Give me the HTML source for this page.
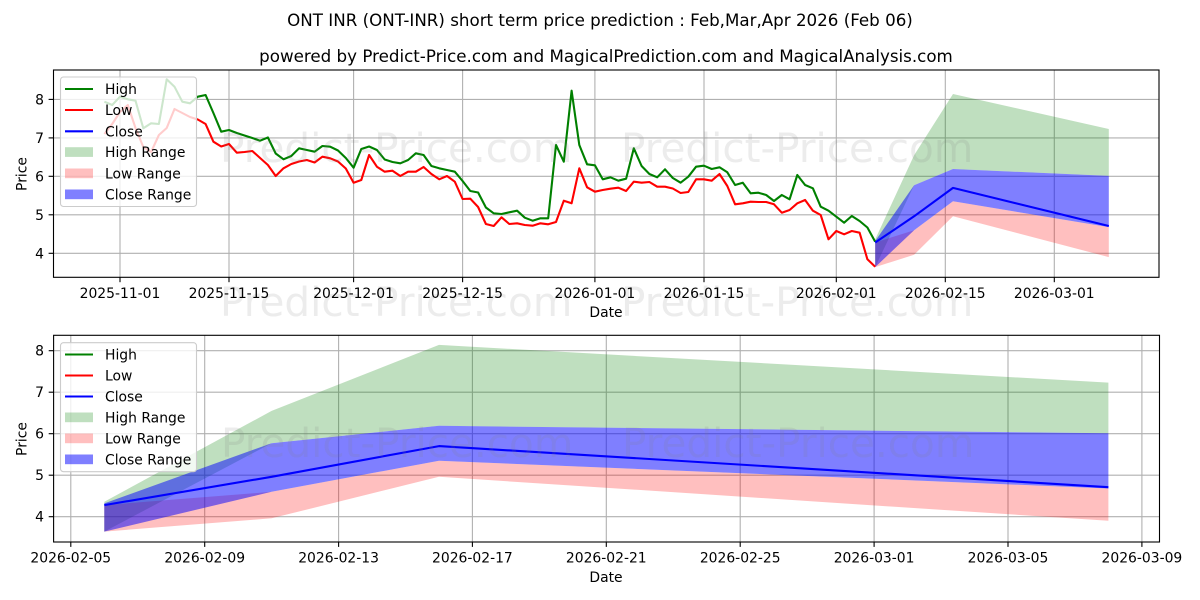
<!DOCTYPE html>
<html>
<head>
<meta charset="utf-8">
<style>
  html, body { margin:0; padding:0; background:#ffffff; }
  svg { display:block; }
  text { font-family: "DejaVu Sans", "Liberation Sans", sans-serif; fill:#000; }
  .tick { font-size:13.9px; }
  .title { font-size:16.7px; }
  .grid line { stroke:#b0b0b0; stroke-width:1.1; }
  .wm { font-size:40.5px; fill:#808080; fill-opacity:0.15; }
</style>
</head>
<body>
<svg width="1200" height="600" viewBox="0 0 1200 600" xmlns="http://www.w3.org/2000/svg">
  <rect x="0" y="0" width="1200" height="600" fill="#ffffff"/>

  <!-- Titles -->
  <text class="title" x="600" y="26" text-anchor="middle">ONT INR (ONT-INR) short term price prediction : Feb,Mar,Apr 2026 (Feb 06)</text>
  <text class="title" x="606" y="62" text-anchor="middle">powered by Predict-Price.com and MagicalPrediction.com and MagicalAnalysis.com</text>

  <!-- ================= TOP CHART ================= -->
  <g class="grid">
    <line x1="53.5" x2="1159" y1="253.3" y2="253.3"/>
    <line x1="53.5" x2="1159" y1="214.8" y2="214.8"/>
    <line x1="53.5" x2="1159" y1="176.3" y2="176.3"/>
    <line x1="53.5" x2="1159" y1="137.9" y2="137.9"/>
    <line x1="53.5" x2="1159" y1="99.4" y2="99.4"/>
    <line y1="70" y2="277.3" x1="120" x2="120"/>
    <line y1="70" y2="277.3" x1="229" x2="229"/>
    <line y1="70" y2="277.3" x1="353.6" x2="353.6"/>
    <line y1="70" y2="277.3" x1="462.6" x2="462.6"/>
    <line y1="70" y2="277.3" x1="594.9" x2="594.9"/>
    <line y1="70" y2="277.3" x1="704" x2="704"/>
    <line y1="70" y2="277.3" x1="836.3" x2="836.3"/>
    <line y1="70" y2="277.3" x1="945.3" x2="945.3"/>
    <line y1="70" y2="277.3" x1="1054.3" x2="1054.3"/>
  </g>

  <!-- prediction ranges top -->
  <polygon fill="#008000" fill-opacity="0.25" points="875.2,239.4 914.1,155.2 953,94 1108.8,129 1108.8,175.9 953,169 914.1,185.2 875.2,267.1"/>
  <polygon fill="#ff0000" fill-opacity="0.25" points="875.2,242.5 914.1,230.2 953,201.3 1108.8,227.1 1108.8,257.1 953,216.3 914.1,254.8 875.2,267.1"/>
  <polygon fill="#0000ff" fill-opacity="0.5" points="875.2,241 914.1,185.2 953,169 1108.8,175.9 1108.8,227.1 953,201.3 914.1,230.2 875.2,267.1"/>

  <!-- historical lines -->
  <polyline fill="none" stroke="#008000" stroke-width="2.1" stroke-linejoin="round" points="104.4,101.7 112.2,105 120,96.7 127.8,99.3 135.5,100.7 143.3,128.3 151.1,123.3 158.9,124 166.7,79.3 174.5,86.7 182.3,101.7 190,103.3 197.8,96.7 205.6,95 213.4,113 221.2,131.7 229,130 236.8,133 244.5,135.5 252.3,138 260.1,140.7 267.9,137.5 275.7,153.5 283.5,159.3 291.3,156 299.1,148.3 306.8,150 314.6,151.7 322.4,146 330.2,146.7 338,150.5 345.8,158 353.6,167.7 361.3,149 369.1,146.5 376.9,150 384.7,159.5 392.5,162 400.3,163.3 408.1,160 415.8,153.3 423.6,155 431.4,166 439.2,168.3 447,170 454.8,171.7 462.6,181 470.3,191 478.1,192.5 485.9,207.5 493.7,213.3 501.5,214 509.3,212.3 517.1,210.7 524.8,217.7 532.6,220.7 540.4,218.3 548.2,218.3 556,145 563.8,161.7 571.6,90.7 579.3,145 587.1,164.3 594.9,165.3 602.7,179.3 610.5,177.3 618.3,180.7 626.1,178.7 633.8,148.3 641.6,166 649.4,174 657.2,177.3 665,169.3 672.8,178 680.6,182.7 688.3,176.7 696.1,166.7 703.9,165.7 711.7,169 719.5,167.3 727.3,172.3 735.1,185 742.8,182.7 750.6,193.3 758.4,192.7 766.2,195 774,201 781.8,195 789.6,199.3 797.3,175 805.1,185 812.9,188.3 820.7,206.7 828.5,210.7 836.3,216.7 844.1,222.7 851.8,216 859.6,221 867.4,227.5 875.2,241.7"/>
  <polyline fill="none" stroke="#ff0000" stroke-width="2.1" stroke-linejoin="round" points="104.4,134 112.2,124 120,112 127.8,105 135.5,128 143.3,147 151.1,152 158.9,135 166.7,128 174.5,109 182.3,113 190,117 197.8,119.5 205.6,124 213.4,141.7 221.2,146.5 229,144 236.8,152.7 244.5,152 252.3,151 260.1,158 267.9,165 275.7,176 283.5,168.3 291.3,164 299.1,161.5 306.8,160 314.6,162.5 322.4,156.7 330.2,158.3 338,161.5 345.8,168.5 353.6,182.7 361.3,180 369.1,155 376.9,166.7 384.7,171.7 392.5,170.7 400.3,176 408.1,171.7 415.8,171.7 423.6,167 431.4,174 439.2,179.3 447,176 454.8,181.7 462.6,199 470.3,198.7 478.1,207 485.9,224 493.7,226 501.5,217.3 509.3,224 517.1,223.3 524.8,225 532.6,225.7 540.4,223.3 548.2,224.3 556,222 563.8,200.7 571.6,203.3 579.3,168.3 587.1,187.3 594.9,191.7 602.7,190 610.5,188.7 618.3,187.7 626.1,191 633.8,181.7 641.6,182.7 649.4,182 657.2,186.7 665,186.7 672.8,188.5 680.6,193 688.3,192 696.1,179.3 703.9,179.3 711.7,180.7 719.5,174 727.3,186 735.1,204.3 742.8,203.3 750.6,201.7 758.4,202 766.2,202 774,204.3 781.8,212.7 789.6,210 797.3,203.3 805.1,200 812.9,210.7 820.7,215 828.5,239.3 836.3,231 844.1,234.3 851.8,231 859.6,232.7 867.4,259.3 875.2,266.7"/>
  <polyline fill="none" stroke="#0000ff" stroke-width="2.1" stroke-linejoin="round" points="875.2,242.5 914.1,216.3 953,187.9 1108.8,226"/>

  <!-- watermarks top -->
  <text class="wm" x="220" y="162">Predict-Price.com</text>
  <text class="wm" x="621" y="162">Predict-Price.com</text>
  <text class="wm" x="220" y="316">Predict-Price.com</text>
  <text class="wm" x="621" y="316">Predict-Price.com</text>

  <!-- axes frame top -->
  <rect x="53.5" y="70" width="1105.5" height="207.3" fill="none" stroke="#000" stroke-width="1.1"/>
  <!-- ticks top -->
  <g stroke="#000" stroke-width="1.1">
    <line x1="53.5" x2="48.6" y1="253.3" y2="253.3"/>
    <line x1="53.5" x2="48.6" y1="214.8" y2="214.8"/>
    <line x1="53.5" x2="48.6" y1="176.3" y2="176.3"/>
    <line x1="53.5" x2="48.6" y1="137.9" y2="137.9"/>
    <line x1="53.5" x2="48.6" y1="99.4" y2="99.4"/>
    <line y1="277.3" y2="282.2" x1="120" x2="120"/>
    <line y1="277.3" y2="282.2" x1="229" x2="229"/>
    <line y1="277.3" y2="282.2" x1="353.6" x2="353.6"/>
    <line y1="277.3" y2="282.2" x1="462.6" x2="462.6"/>
    <line y1="277.3" y2="282.2" x1="594.9" x2="594.9"/>
    <line y1="277.3" y2="282.2" x1="704" x2="704"/>
    <line y1="277.3" y2="282.2" x1="836.3" x2="836.3"/>
    <line y1="277.3" y2="282.2" x1="945.3" x2="945.3"/>
    <line y1="277.3" y2="282.2" x1="1054.3" x2="1054.3"/>
  </g>
  <g class="tick" text-anchor="end">
    <text x="44" y="258.3">4</text>
    <text x="44" y="219.8">5</text>
    <text x="44" y="181.3">6</text>
    <text x="44" y="142.9">7</text>
    <text x="44" y="104.4">8</text>
  </g>
  <g class="tick" text-anchor="middle">
    <text x="120" y="298">2025-11-01</text>
    <text x="229" y="298">2025-11-15</text>
    <text x="353.6" y="298">2025-12-01</text>
    <text x="462.6" y="298">2025-12-15</text>
    <text x="594.9" y="298">2026-01-01</text>
    <text x="704" y="298">2026-01-15</text>
    <text x="836.3" y="298">2026-02-01</text>
    <text x="945.3" y="298">2026-02-15</text>
    <text x="1054.3" y="298">2026-03-01</text>
  </g>
  <text class="tick" x="606" y="317" text-anchor="middle">Date</text>
  <text class="tick" x="0" y="0" text-anchor="middle" transform="translate(26.5,174) rotate(-90)">Price</text>

  <!-- legend top -->
  <rect x="60.5" y="77" width="136" height="129.5" rx="3" ry="3" fill="#ffffff" fill-opacity="0.8" stroke="#cccccc" stroke-width="1.1"/>
  <line x1="65" x2="93" y1="89" y2="89" stroke="#008000" stroke-width="2.1"/>
  <line x1="65" x2="93" y1="110" y2="110" stroke="#ff0000" stroke-width="2.1"/>
  <line x1="65" x2="93" y1="131.3" y2="131.3" stroke="#0000ff" stroke-width="2.1"/>
  <rect x="65" y="147.2" width="28" height="9.7" fill="#008000" fill-opacity="0.25"/>
  <rect x="65" y="168.5" width="28" height="9.7" fill="#ff0000" fill-opacity="0.25"/>
  <rect x="65" y="189.5" width="28" height="9.7" fill="#0000ff" fill-opacity="0.5"/>
  <g class="tick">
    <text x="105" y="94">High</text>
    <text x="105" y="115">Low</text>
    <text x="105" y="136.3">Close</text>
    <text x="105" y="157">High Range</text>
    <text x="105" y="178.3">Low Range</text>
    <text x="105" y="199.3">Close Range</text>
  </g>

  <!-- ================= BOTTOM CHART ================= -->
  <g class="grid">
    <line x1="53.6" x2="1159.5" y1="516.7" y2="516.7"/>
    <line x1="53.6" x2="1159.5" y1="475.2" y2="475.2"/>
    <line x1="53.6" x2="1159.5" y1="433.7" y2="433.7"/>
    <line x1="53.6" x2="1159.5" y1="392.2" y2="392.2"/>
    <line x1="53.6" x2="1159.5" y1="350.7" y2="350.7"/>
    <line y1="335.3" y2="542" x1="70.8" x2="70.8"/>
    <line y1="335.3" y2="542" x1="204.7" x2="204.7"/>
    <line y1="335.3" y2="542" x1="338.6" x2="338.6"/>
    <line y1="335.3" y2="542" x1="472.4" x2="472.4"/>
    <line y1="335.3" y2="542" x1="606.3" x2="606.3"/>
    <line y1="335.3" y2="542" x1="740.2" x2="740.2"/>
    <line y1="335.3" y2="542" x1="874.1" x2="874.1"/>
    <line y1="335.3" y2="542" x1="1008" x2="1008"/>
    <line y1="335.3" y2="542" x1="1141.9" x2="1141.9"/>
  </g>

  <polygon fill="#008000" fill-opacity="0.25" points="104.3,501.7 271.6,410.9 439,344.9 1108.4,382.6 1108.4,433.3 439,425.8 271.6,443.2 104.3,531.6"/>
  <polygon fill="#ff0000" fill-opacity="0.25" points="104.3,505.1 271.6,491.8 439,460.7 1108.4,488.5 1108.4,520.8 439,476.8 271.6,518.3 104.3,531.6"/>
  <polygon fill="#0000ff" fill-opacity="0.5" points="104.3,503.4 271.6,443.2 439,425.8 1108.4,433.3 1108.4,488.5 439,460.7 271.6,491.8 104.3,531.6"/>
  <polyline fill="none" stroke="#0000ff" stroke-width="2.1" stroke-linejoin="round" points="104.3,505.1 271.6,476.8 439,446.1 1108.4,487.2"/>

  <text class="wm" x="221" y="457">Predict-Price.com</text>
  <text class="wm" x="622" y="457">Predict-Price.com</text>

  <rect x="53.6" y="335.3" width="1105.9" height="206.7" fill="none" stroke="#000" stroke-width="1.1"/>
  <g stroke="#000" stroke-width="1.1">
    <line x1="53.6" x2="48.7" y1="516.7" y2="516.7"/>
    <line x1="53.6" x2="48.7" y1="475.2" y2="475.2"/>
    <line x1="53.6" x2="48.7" y1="433.7" y2="433.7"/>
    <line x1="53.6" x2="48.7" y1="392.2" y2="392.2"/>
    <line x1="53.6" x2="48.7" y1="350.7" y2="350.7"/>
    <line y1="542" y2="546.9" x1="70.8" x2="70.8"/>
    <line y1="542" y2="546.9" x1="204.7" x2="204.7"/>
    <line y1="542" y2="546.9" x1="338.6" x2="338.6"/>
    <line y1="542" y2="546.9" x1="472.4" x2="472.4"/>
    <line y1="542" y2="546.9" x1="606.3" x2="606.3"/>
    <line y1="542" y2="546.9" x1="740.2" x2="740.2"/>
    <line y1="542" y2="546.9" x1="874.1" x2="874.1"/>
    <line y1="542" y2="546.9" x1="1008" x2="1008"/>
    <line y1="542" y2="546.9" x1="1141.9" x2="1141.9"/>
  </g>
  <g class="tick" text-anchor="end">
    <text x="44" y="521.7">4</text>
    <text x="44" y="480.2">5</text>
    <text x="44" y="438.7">6</text>
    <text x="44" y="397.2">7</text>
    <text x="44" y="355.7">8</text>
  </g>
  <g class="tick" text-anchor="middle">
    <text x="70.8" y="562.5">2026-02-05</text>
    <text x="204.7" y="562.5">2026-02-09</text>
    <text x="338.6" y="562.5">2026-02-13</text>
    <text x="472.4" y="562.5">2026-02-17</text>
    <text x="606.3" y="562.5">2026-02-21</text>
    <text x="740.2" y="562.5">2026-02-25</text>
    <text x="874.1" y="562.5">2026-03-01</text>
    <text x="1008" y="562.5">2026-03-05</text>
    <text x="1141.9" y="562.5">2026-03-09</text>
  </g>
  <text class="tick" x="606" y="582" text-anchor="middle">Date</text>
  <text class="tick" x="0" y="0" text-anchor="middle" transform="translate(26.5,439) rotate(-90)">Price</text>

  <!-- legend bottom -->
  <rect x="60.5" y="342.7" width="136" height="129" rx="3" ry="3" fill="#ffffff" fill-opacity="0.8" stroke="#cccccc" stroke-width="1.1"/>
  <line x1="65" x2="93" y1="354.5" y2="354.5" stroke="#008000" stroke-width="2.1"/>
  <line x1="65" x2="93" y1="375.5" y2="375.5" stroke="#ff0000" stroke-width="2.1"/>
  <line x1="65" x2="93" y1="396.5" y2="396.5" stroke="#0000ff" stroke-width="2.1"/>
  <rect x="65" y="412.5" width="28" height="9.7" fill="#008000" fill-opacity="0.25"/>
  <rect x="65" y="433.5" width="28" height="9.7" fill="#ff0000" fill-opacity="0.25"/>
  <rect x="65" y="454.5" width="28" height="9.7" fill="#0000ff" fill-opacity="0.5"/>
  <g class="tick">
    <text x="105" y="359.5">High</text>
    <text x="105" y="380.5">Low</text>
    <text x="105" y="401.5">Close</text>
    <text x="105" y="422.3">High Range</text>
    <text x="105" y="443.3">Low Range</text>
    <text x="105" y="464.3">Close Range</text>
  </g>
</svg>
</body>
</html>
